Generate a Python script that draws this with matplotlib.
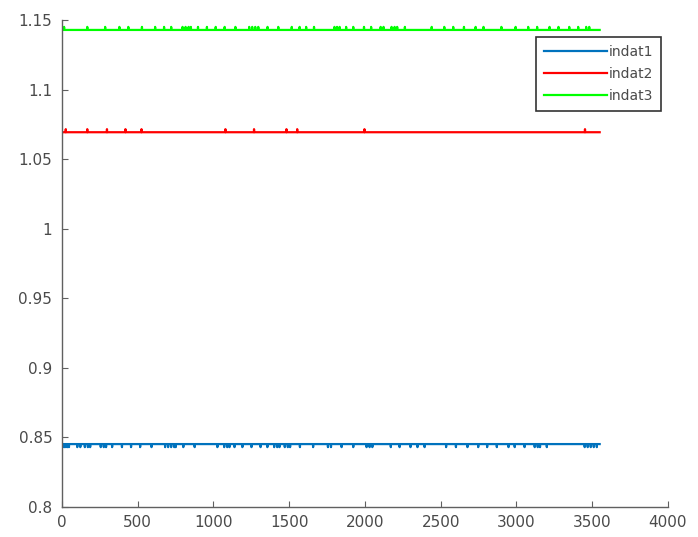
import numpy as np
import matplotlib
matplotlib.use("Agg")
from matplotlib import pyplot as plt

# number of samples and base levels of the three signals
n_samples = 3550
labels = ["indat1", "indat2", "indat3"]
base_levels = [0.8452, 1.0693, 1.1428]
spike_sizes = [-0.0022, 0.0022, 0.0022]
colors = ["#0072BD", "#FF0000", "#00FF00"]

# sample indices where each signal deviates from its base level
spikes_indat1 = [5, 15, 25, 35, 45, 100, 120, 150, 170, 185, 255, 275, 290, 330,
                 395, 455, 515, 590, 680, 700, 720, 740, 750, 800, 875, 1025,
                 1070, 1090, 1105, 1138, 1190, 1250, 1310, 1355, 1400, 1420,
                 1435, 1470, 1490, 1505, 1570, 1657, 1755, 1775, 1845, 1922,
                 2010, 2030, 2048, 2170, 2228, 2300, 2346, 2393, 2535, 2600,
                 2676, 2747, 2806, 2870, 2947, 2988, 3053, 3120, 3140, 3155,
                 3200, 3450, 3470, 3490, 3510, 3530]
spikes_indat2 = [24, 166, 296, 418, 524, 1078, 1267, 1481, 1552, 1996, 3452]
spikes_indat3 = [13, 166, 284, 378, 437, 527, 614, 673, 720, 795, 815, 835, 850,
                 897, 956, 1014, 1073, 1144, 1235, 1255, 1275, 1295, 1356, 1427,
                 1516, 1568, 1611, 1663, 1798, 1815, 1832, 1875, 1922, 1993,
                 2040, 2103, 2122, 2175, 2195, 2212, 2263, 2440, 2523, 2582,
                 2653, 2730, 2782, 2900, 2994, 3077, 3136, 3218, 3277, 3348,
                 3407, 3460, 3480]
spike_lists = [spikes_indat1, spikes_indat2, spikes_indat3]

plt.rcParams["font.family"] = ["DejaVu Sans"]

fig = plt.figure(figsize=(6.98, 5.37), dpi=100)
ax = fig.add_axes([0.0888, 0.0559, 0.868, 0.907])

x = np.arange(1, n_samples + 1)
for lab, base, size, col, spk in zip(labels, base_levels, spike_sizes, colors, spike_lists):
    y = np.full(n_samples, base)
    y[np.array(spk)] = base + size
    ax.plot(x, y, color=col, linewidth=1.6, label=lab)

ax.set_xlim(0, 4000)
ax.set_ylim(0.8, 1.15)
ax.set_xticks(np.arange(0, 4001, 500))
ax.set_yticks([0.8, 0.85, 0.9, 0.95, 1, 1.05, 1.1, 1.15])
ax.set_yticklabels(["0.8", "0.85", "0.9", "0.95", "1", "1.05", "1.1", "1.15"])

gray = "#4a4a4a"
for side in ["top", "right"]:
    ax.spines[side].set_visible(False)
for side in ["left", "bottom"]:
    ax.spines[side].set_color("#606060")
    ax.spines[side].set_linewidth(1.0)
ax.tick_params(direction="in", length=4, width=0.8, colors="#606060",
               labelcolor=gray, labelsize=11)
ax.tick_params(axis="y", pad=7)
ax.tick_params(axis="x", pad=6)

leg = ax.legend(loc="upper right", bbox_to_anchor=(661 / 698, (537 - 37) / 537),
                bbox_transform=fig.transFigure, fontsize=10, frameon=True,
                fancybox=False, handlelength=4.6, handletextpad=0.1,
                borderpad=0.55, labelspacing=0.6, borderaxespad=0)
leg.get_frame().set_edgecolor("black")
leg.get_frame().set_linewidth(1.2)
for t in leg.get_texts():
    t.set_color(gray)

fig.savefig("out.png", dpi=100)
